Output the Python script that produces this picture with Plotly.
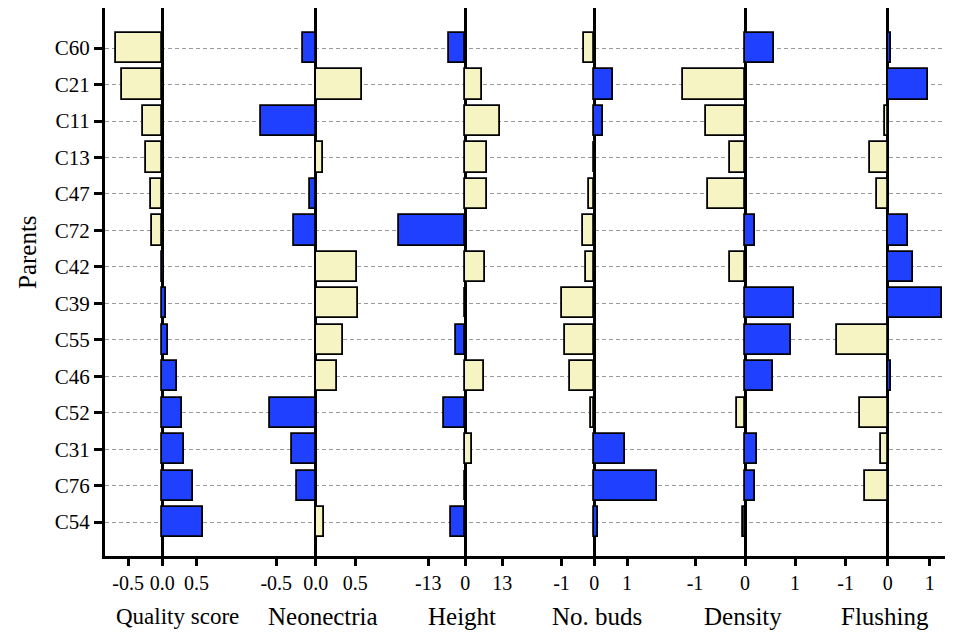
import plotly.graph_objects as go

# ---- data ----
parents = ["C60", "C21", "C11", "C13", "C47", "C72", "C42",
           "C39", "C55", "C46", "C52", "C31", "C76", "C54"]
quality = [-0.68, -0.59, -0.28, -0.24, -0.17, -0.155, 0.03, 0.05, 0.08, 0.21, 0.29, 0.31, 0.45, 0.59]
neonectria = [-0.16, 0.58, -0.69, 0.09, -0.07, -0.28, 0.52, 0.54, 0.35, 0.27, -0.58, -0.30, -0.24, 0.10]
height = [-5.6, 6.0, 12.1, 7.5, 7.6, -23.3, 6.8, 0.0, -3.3, 6.5, -7.4, 2.2, 0.0, -4.9]
buds = [-0.32, 0.56, 0.26, 0.0, -0.15, -0.35, -0.24, -0.98, -0.90, -0.74, -0.11, 0.94, 1.92, 0.10]
density = [0.57, -1.25, -0.79, -0.31, -0.75, 0.19, -0.30, 0.98, 0.92, 0.55, -0.17, 0.23, 0.19, -0.05]
flushing = [0.08, 0.95, -0.07, -0.43, -0.25, 0.49, 0.61, 1.30, -1.20, 0.07, -0.65, -0.17, -0.53, 0.0]

traits = ["Quality score", "Neonectria", "Height", "No. buds", "Density", "Flushing"]
series = [quality, neonectria, height, buds, density, flushing]
# direction that counts as favourable (blue) for each trait
favourable = [1, -1, -1, 1, 1, 1]
tick_vals = [[-0.5, 0, 0.5], [-0.5, 0, 0.5], [-13, 0, 13], [-1, 0, 1], [-1, 0, 1], [-1, 0, 1]]
tick_text = [["-0.5", "0.0", "0.5"], ["-0.5", "0.0", "0.5"], ["-13", "0", "13"],
             ["-1", "0", "1"], ["-1", "0", "1"], ["-1", "0", "1"]]

# ---- styling ----
BLUE = "#2040ff"
YELLOW = "#f6f4c2"
FONT = "Liberation Serif"
x_ranges = [[-0.838, 1.209], [-0.895, 0.877], [-28.2, 21.0],
            [-2.113, 2.155], [-1.6, 1.2], [-1.969, 1.364]]
title_x_px = [177, 323, 462, 597, 743, 885]
title_sizes = [23, 25, 25, 25, 25, 25]

L, R, T, B = 105, 28, 8, 78
W, H = 973, 634
PW = W - L - R
PH = H - T - B

n = len(parents)
ypos = [n - 1 - i for i in range(n)]

fig = go.Figure()
for k, vals in enumerate(series):
    colors = [BLUE if v * favourable[k] > 0 else YELLOW for v in vals]
    xa = "x" if k == 0 else f"x{k+1}"
    fig.add_trace(go.Bar(
        x=vals, y=ypos, orientation="h", xaxis=xa, yaxis="y",
        width=0.83,
        marker=dict(color=colors, line=dict(color="black", width=1.8)),
        showlegend=False, hoverinfo="x+y",
    ))

layout = dict(
    width=W, height=H,
    margin=dict(l=L, r=R, t=T, b=B, pad=0),
    plot_bgcolor="white", paper_bgcolor="white",
    bargap=0,
    font=dict(family=FONT, color="black", size=20),
    yaxis=dict(
        range=[-0.93, n - 1 + 1.1],
        tickvals=ypos, ticktext=parents,
        showline=True, linecolor="black", linewidth=3,
        ticks="outside", ticklen=8, tickwidth=3, tickcolor="black",
        showgrid=True, gridcolor="#9a9a9a", gridwidth=1, griddash="4px,3px",
        zeroline=False, anchor="x",
        tickfont=dict(family=FONT, size=21, color="black"),
    ),
)
for k in range(6):
    key = "xaxis" if k == 0 else f"xaxis{k+1}"
    layout[key] = dict(
        domain=[k / 6, (k + 1) / 6],
        range=x_ranges[k],
        anchor="y",
        showline=True, linecolor="black", linewidth=3,
        ticks="outside", ticklen=7, tickwidth=3, tickcolor="black",
        tickvals=tick_vals[k], ticktext=tick_text[k],
        showgrid=False,
        zeroline=True, zerolinecolor="black", zerolinewidth=3,
        tickfont=dict(family=FONT, size=20, color="black"),
    )
fig.update_layout(**layout)

annotations = []
for k, t in enumerate(traits):
    annotations.append(dict(
        text=t, xref="paper", yref="paper",
        x=(title_x_px[k] - L) / PW, y=(H - B - 616) / PH,
        xanchor="center", yanchor="middle", showarrow=False,
        font=dict(family=FONT, size=title_sizes[k], color="black"),
    ))
annotations.append(dict(
    text="Parents", xref="paper", yref="paper",
    x=(27 - L) / PW, y=(H - B - 252) / PH,
    xanchor="center", yanchor="middle", showarrow=False, textangle=-90,
    font=dict(family=FONT, size=25, color="black"),
))
fig.update_layout(annotations=annotations)

fig.write_html("out.html")
